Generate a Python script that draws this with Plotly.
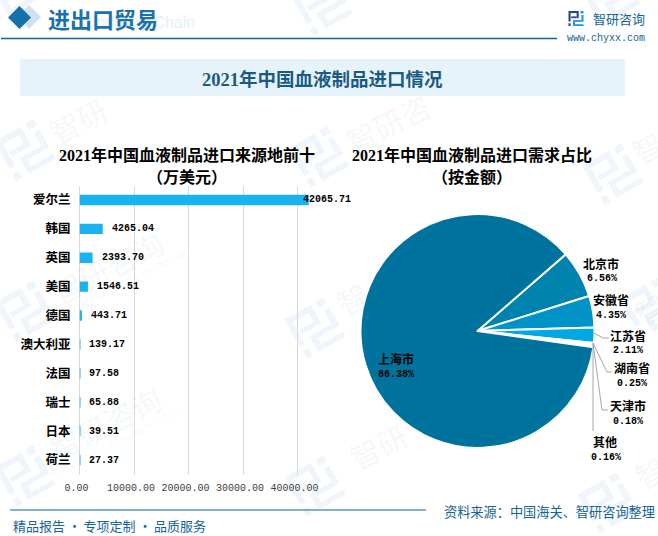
import math
import plotly.graph_objects as go

W, H = 658, 536

# chart data
countries = ["爱尔兰", "韩国", "英国", "美国", "德国", "澳大利亚", "法国", "瑞士", "日本", "荷兰"]
import_values = [42065.71, 4265.04, 2393.70, 1546.51, 443.71, 139.17, 97.58, 65.88, 39.51, 27.37]
x_ticks = [0, 10000, 20000, 30000, 40000]

regions = ["北京市", "安徽省", "江苏省", "湖南省", "天津市", "其他", "上海市"]
shares = [6.56, 4.35, 2.11, 0.25, 0.18, 0.16, 86.38]
region_colors = ["#0082ae", "#0093c7", "#00a9e4", "#00a9e4", "#0093c7", "#0082ae", "#00729e"]

# where the pie labels sit, in pixels
label_pos = [(601, 263), (611, 299), (628, 335), (632, 367), (628, 405), (605, 441), (396, 358)]
pct_pos = [(602, 278), (611, 315), (628, 350), (632, 383), (628, 421), (606, 457), (396, 374)]
leaders = [
    [(594, 333), (603, 338), (609, 338)],
    [(593, 343), (607, 372), (612, 372)],
    [(593, 343), (602, 410), (608, 410)],
    [(593, 343), (593, 431)],
]

CJK = "Noto Sans CJK SC"
SERIF = "Liberation Serif, " + CJK
MONO = "Liberation Mono, " + CJK
BLUE = "#15639b"
PALE = "#eff5fa"


def px(x):
    return x / W


def py(y):
    return 1 - y / H


# annotations go on a hidden full-page pixel axis so they never push the margins
def text(x, y, s, size, color="#000000", family=CJK, anchor="center", angle=0):
    return dict(xref="x2", yref="y2", x=x, y=y, text=s, showarrow=False,
                xanchor=anchor, yanchor="middle", textangle=angle,
                font=dict(size=size, color=color, family=family))


def rect(x0, y0, x1, y1, color, layer="below"):
    return dict(type="rect", xref="paper", yref="paper", x0=px(x0), x1=px(x1), y0=py(y0), y1=py(y1),
                fillcolor=color, line_width=0, layer=layer)


def poly(points, color, layer="below"):
    path = "M" + " L".join(f"{px(a):.5f},{py(b):.5f}" for a, b in points) + " Z"
    return dict(type="path", xref="paper", yref="paper", path=path, fillcolor=color, line_width=0, layer=layer)


def polyline(points, color, width):
    path = "M" + " L".join(f"{px(a):.5f},{py(b):.5f}" for a, b in points)
    return dict(type="path", xref="paper", yref="paper", path=path, line=dict(color=color, width=width))


LOGO_LEFT = [(0, 0, .68, .14), (.54, .14, .68, .48), (.18, .36, .54, .48), (0, .14, .14, .7), (0, .82, .14, 1)]
LOGO_RIGHT = [(.8, 0, 1, .16), (.86, .26, 1, .72), (.3, .6, .86, .72), (.3, .72, .44, 1), (.44, .88, 1, 1)]


def logo(cx, cy, size, angle, left_color, right_color):
    out = []
    a = math.radians(angle)
    for rects, color in ((LOGO_LEFT, left_color), (LOGO_RIGHT, right_color)):
        for x0, y0, x1, y1 in rects:
            pts = []
            for u, v in ((x0, y0), (x1, y0), (x1, y1), (x0, y1)):
                dx, dy = (u - .5) * size, (v - .5) * size
                pts.append((cx + dx * math.cos(a) + dy * math.sin(a), cy - dx * math.sin(a) + dy * math.cos(a)))
            out.append(poly(pts, color))
    return out


fig = go.Figure()

fig.add_trace(go.Bar(
    x=import_values, y=countries, orientation="h",
    marker_color="#1ab3f2", marker_line_width=0, width=0.36,
    hoverinfo="skip", xaxis="x", yaxis="y",
))

fig.add_trace(go.Pie(
    labels=regions, values=shares, sort=False, direction="clockwise", rotation=49,
    marker=dict(colors=region_colors, line=dict(color="#ffffff", width=2)),
    textinfo="none", hoverinfo="skip", showlegend=False,
    domain=dict(x=[px(360.5), px(594.5)], y=[py(448), py(214)]),
))

shapes = []
# watermark
for cx, cy in [(25, 150), (319, 157), (613, 174), (25, 311), (315, 328), (650, 308),
               (25, 476), (315, 486), (608, 503), (322, 5), (610, -5), (5, -8)]:
    shapes += logo(cx, cy, 45, 30, PALE, PALE)

# header
shapes.append(poly([(29, 5), (41, 17), (29, 29), (17, 17)], "#cfe3ef"))
shapes.append(poly([(19.5, 6), (31, 17.5), (19.5, 29), (8, 17.5)], "#1570ab"))
shapes.append(polyline([(1, 38.5), (557, 38.5)], "#0f659f", 1.5))
shapes.append(rect(20, 59, 625, 96, "#e6f3fb"))
shapes += logo(576, 18.5, 15, 0, "#2d3f8f", "#1f96d8")

# footer
shapes.append(polyline([(10, 510), (426, 510)], "#0f659f", 1.2))

# pie leader lines
for pts in leaders:
    shapes.append(polyline(pts, "#a6a6a6", 1))

annotations = []
WM = "rgba(120,135,150,0.08)"
for cx, cy, s in [(78, 120, "智研"), (388, 123, "智研咨"), (107, 267, "智研咨询"), (105, 423, "智研咨询"),
                  (378, 446, "智研"), (352, 298, "智"), (647, 147, "智"), (650, 308, "智"), (650, 472, "智")]:
    annotations.append(text(cx, cy, s, 30, WM, CJK, angle=-27))
for cx, cy in [(118, 287), (116, 443)]:
    annotations.append(text(cx, cy, "INTELLIGENCE RESEARCH GROUP", 9, WM, "Liberation Sans", angle=-27))

annotations += [
    text(197, 22, "Industry Chain", 16, "#e3f1fb", "Liberation Sans", anchor="right"),
    text(46, 17.5, "<b>进出口贸易</b>", 22, "#1a72ad", CJK, anchor="left"),
    text(591, 18, "智研咨询", 13, BLUE, CJK, anchor="left"),
    text(605.5, 38, "www.chyxx.com", 10, BLUE, MONO),
    text(322, 79, "<b>2021年中国血液制品进口情况</b>", 18.5, "#1b5a85", SERIF),
    text(187, 155, "<b>2021年中国血液制品进口来源地前十</b>", 16, "#000000", SERIF),
    text(187, 177, "<b>（万美元）</b>", 16, "#000000", SERIF),
    text(472, 155, "<b>2021年中国血液制品进口需求占比</b>", 16, "#000000", SERIF),
    text(472, 177, "<b>（按金额）</b>", 16, "#000000", SERIF),
    text(442, 511.5, "资料来源：中国海关、智研咨询整理", 13.2, BLUE, CJK, anchor="left"),
    text(11, 525, "精品报告 ·\u2009专项定制 ·\u2009品质服务", 13, BLUE, CJK, anchor="left"),
]

# bar value labels
for i, (c, v) in enumerate(zip(countries, import_values)):
    annotations.append(dict(
        xref="x", yref="y", x=v, y=c, text=f"<b>{v:.2f}</b>", showarrow=False,
        xanchor="left", yanchor="middle", xshift=-8 if i == 0 else 7,
        font=dict(size=10, color="#000000", family=MONO),
    ))

# pie labels
for name, share, p, q in zip(regions, shares, label_pos, pct_pos):
    annotations.append(text(p[0], p[1], f"<b>{name}</b>", 12, "#000000"))
    annotations.append(text(q[0], q[1], f"<b>{share:.2f}%</b>", 10, "#000000", MONO))

fig.update_layout(
    template="none",
    width=W, height=H,
    margin=dict(l=0, r=0, t=0, b=0, pad=0, autoexpand=False),
    paper_bgcolor="white", plot_bgcolor="rgba(0,0,0,0)",
    showlegend=False, bargap=0.65,
    xaxis=dict(
        domain=[px(79.5), px(324.75)], range=[0, 45000], anchor="y", automargin=False,
        tickvals=x_ticks, tickformat=".2f", showgrid=True, gridcolor="#d9d9d9", gridwidth=1,
        zeroline=True, zerolinecolor="#d9d9d9", showline=False, ticks="",
        ticklabelshift=-3, ticklabelstandoff=5,
        tickfont=dict(size=10, color="#404040", family=MONO),
    ),
    yaxis=dict(
        domain=[py(474.5), py(185.5)], anchor="x", autorange="reversed", type="category", automargin=False,
        showgrid=False, zeroline=False, showline=False, ticks="",
        ticklabelstandoff=8,
        tickfont=dict(size=12.5, color="#000000", family=CJK, weight="bold"),
    ),
    xaxis2=dict(domain=[0, 1], range=[0, W], visible=False, anchor="y2", fixedrange=True),
    yaxis2=dict(domain=[0, 1], range=[H, 0], visible=False, anchor="x2", fixedrange=True),
    shapes=shapes,
    annotations=annotations,
)

# the page's default body margin would push the figure 8px off the window
fig.write_html("out.html", config={"displayModeBar": False}, post_script="document.body.style.margin='0';")
